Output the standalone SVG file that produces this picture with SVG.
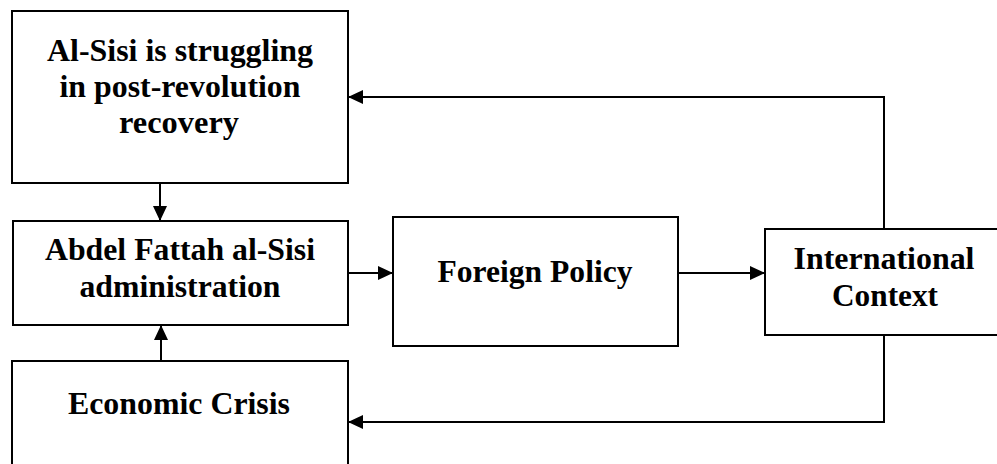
<svg xmlns="http://www.w3.org/2000/svg" width="997" height="464" viewBox="0 0 997 464">
<style>
.box{fill:#fff;stroke:#000;stroke-width:2}
.t{font-family:"Liberation Serif","Times New Roman",serif;font-weight:bold;font-size:31px;text-anchor:middle;fill:#000}
.c{fill:none;stroke:#000;stroke-width:2}
</style>
<defs>
<marker id="ah" viewBox="0 0 15 14" refX="15" refY="7" markerWidth="15" markerHeight="14" markerUnits="userSpaceOnUse" orient="auto">
<path d="M0,0 L15,7 L0,14 Z" fill="#000"/>
</marker>
</defs>
<rect width="997" height="464" fill="#fff"/>
<g id="n1">
<rect class="box" x="12" y="11" width="336" height="172"/>
<text class="t" x="180" y="61" textLength="266" lengthAdjust="spacingAndGlyphs">Al-Sisi is struggling</text>
<text class="t" x="180" y="97" textLength="241" lengthAdjust="spacingAndGlyphs">in post-revolution</text>
<text class="t" x="179" y="133" textLength="120" lengthAdjust="spacingAndGlyphs">recovery</text>
</g>
<g id="n2">
<rect class="box" x="13" y="221" width="335" height="104"/>
<text class="t" x="180" y="260" textLength="270" lengthAdjust="spacingAndGlyphs">Abdel Fattah al-Sisi</text>
<text class="t" x="180" y="297" textLength="201" lengthAdjust="spacingAndGlyphs">administration</text>
</g>
<g id="n3">
<rect class="box" x="12" y="361" width="336" height="110"/>
<text class="t" x="179" y="414" textLength="222" lengthAdjust="spacingAndGlyphs">Economic Crisis</text>
</g>
<g id="n4">
<rect class="box" x="393" y="217" width="285" height="129"/>
<text class="t" x="535" y="282" textLength="195" lengthAdjust="spacingAndGlyphs">Foreign Policy</text>
</g>
<g id="n5">
<rect class="box" x="765" y="229" width="240" height="106"/>
<text class="t" x="884" y="269" textLength="181" lengthAdjust="spacingAndGlyphs">International</text>
<text class="t" x="885" y="306" textLength="106" lengthAdjust="spacingAndGlyphs">Context</text>
</g>
<g id="connectors">
<line class="c" x1="160" y1="183" x2="160" y2="221" marker-end="url(#ah)"/>
<line class="c" x1="161" y1="361" x2="161" y2="325" marker-end="url(#ah)"/>
<line class="c" x1="348" y1="273" x2="393" y2="273" marker-end="url(#ah)"/>
<line class="c" x1="678" y1="273" x2="765" y2="273" marker-end="url(#ah)"/>
<polyline class="c" points="884,229 884,97 348,97" marker-end="url(#ah)"/>
<polyline class="c" points="884,335 884,422 348,422" marker-end="url(#ah)"/>
</g>
</svg>
